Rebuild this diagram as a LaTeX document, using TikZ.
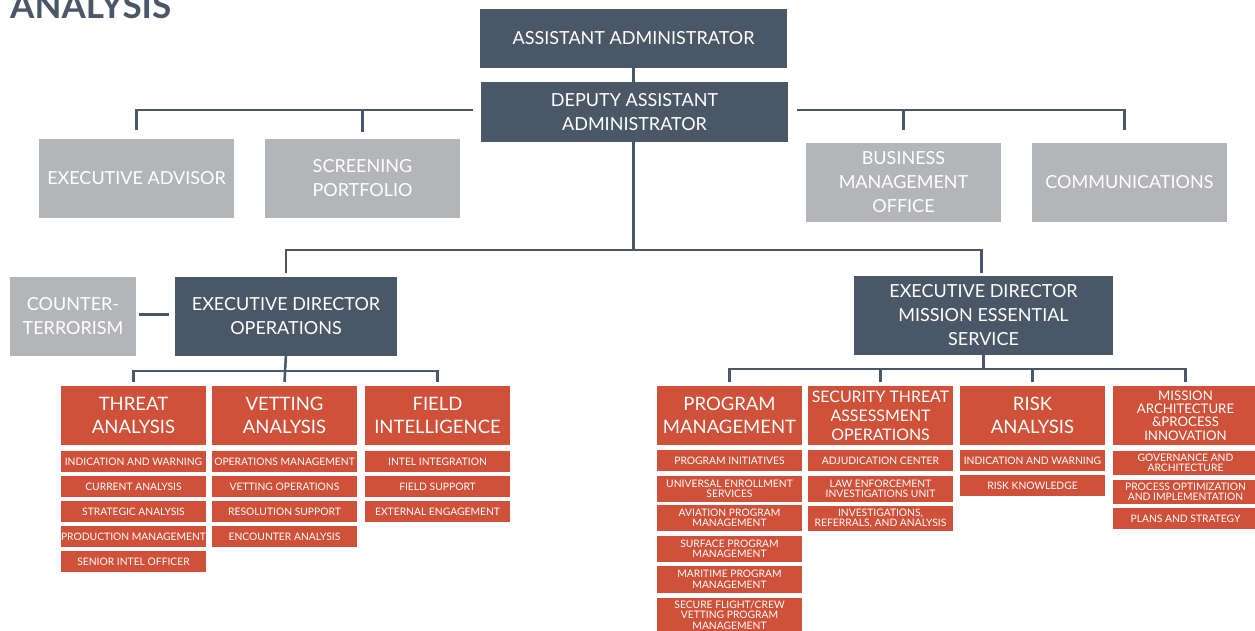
\documentclass[tikz,border=0pt]{standalone}
\usepackage{fontspec}
\setmainfont{Lato}
\usetikzlibrary{calc}
\definecolor{slate}{HTML}{4A5767}
\definecolor{ashgray}{HTML}{B4B5B9}
\definecolor{brick}{HTML}{D0513A}
\tikzset{
 lead/.style={fill=slate, text=white, inner sep=0, align=center, minimum height=79pt, font=\fontsize{18}{24}\selectfont},
 staff/.style={fill=ashgray, text=white, inner sep=0, align=center, minimum height=79pt, font=\fontsize{18}{24}\selectfont},
 office/.style={fill=brick, text=white, inner sep=0, align=center, minimum width=145pt, minimum height=59pt, font=\fontsize{18.5}{23.5}\selectfont},
 unit/.style={fill=brick, text=white, inner sep=0, align=center, minimum width=145pt, minimum height=21pt, font=\fontsize{10.3}{10.5}\selectfont},
 link/.style={slate, line width=2.5pt},
}

\begin{document}
\begin{tikzpicture}[x=1pt, y=-1pt]
\useasboundingbox (0,0) rectangle (1255,630);
\node[anchor=base west, text=slate, inner sep=0, font=\fontsize{35}{35}\selectfont\bfseries] (title) at (10,18) {ANALYSIS};

% front office
\node[lead, minimum width=307pt, minimum height=59pt] (aa) at (633.5,38.5) {ASSISTANT ADMINISTRATOR};
\node[lead, minimum width=307pt, minimum height=60pt] (daa) at (634.5,112) {DEPUTY ASSISTANT\\ADMINISTRATOR};
\node[staff, minimum width=195pt] (ea) at (136.5,178.5) {EXECUTIVE ADVISOR};
\node[staff, minimum width=195pt] (sp) at (362.5,178.5) {SCREENING\\PORTFOLIO};
\node[staff, minimum width=195pt] (bmo) at (903.5,182.5) {BUSINESS\\MANAGEMENT\\OFFICE};
\node[staff, minimum width=195pt] (com) at (1129.5,182.5) {COMMUNICATIONS};

\node[staff, minimum width=126pt] (ct) at (73,316.5) {COUNTER-\\TERRORISM};
\node[lead, minimum width=222pt] (edo) at (286,316.5) {EXECUTIVE DIRECTOR\\OPERATIONS};
\node[lead, minimum width=259pt] (edm) at (983.5,315.5) {EXECUTIVE DIRECTOR\\MISSION ESSENTIAL\\SERVICE};

% operations
\node[office] (ta) at (133.5,415.5) {THREAT\\ANALYSIS};
\node[office] (va) at (284.5,415.5) {VETTING\\ANALYSIS};
\node[office] (fi) at (437.5,415.5) {FIELD\\INTELLIGENCE};
\foreach \txt [count=\i] in {INDICATION AND WARNING,CURRENT ANALYSIS,STRATEGIC ANALYSIS,PRODUCTION MANAGEMENT,SENIOR INTEL OFFICER}
 \node[unit] (ta\i) at (133.5,{436.5+25*\i}) {\txt};
\foreach \txt [count=\i] in {OPERATIONS MANAGEMENT,VETTING OPERATIONS,RESOLUTION SUPPORT,ENCOUNTER ANALYSIS}
 \node[unit] (va\i) at (284.5,{436.5+25*\i}) {\txt};
\foreach \txt [count=\i] in {INTEL INTEGRATION,FIELD SUPPORT,EXTERNAL ENGAGEMENT}
 \node[unit] (fi\i) at (437.5,{436.5+25*\i}) {\txt};

% mission essential
\node[office] (pm) at (729.5,415.5) {PROGRAM\\MANAGEMENT};
\node[office, font=\fontsize{15.9}{19}\selectfont] (st) at (880.5,415.5) {SECURITY THREAT\\ASSESSMENT\\OPERATIONS};
\node[office] (ra) at (1032.5,415.5) {RISK\\ANALYSIS};
\node[office, font=\fontsize{13.2}{13.3}\selectfont] (ma) at (1185.5,415.5) {MISSION\\ARCHITECTURE\\\&PROCESS\\INNOVATION};

\node[unit] (pm1) at (729.5,460.5) {PROGRAM INITIATIVES};
\node[unit, minimum height=26pt] (pm2) at (729.5,489) {UNIVERSAL ENROLLMENT\\SERVICES};
\node[unit, minimum height=26pt] (pm3) at (729.5,518) {AVIATION PROGRAM\\MANAGEMENT};
\node[unit, minimum height=26pt] (pm4) at (729.5,549) {SURFACE PROGRAM\\MANAGEMENT};
\node[unit, minimum height=27pt] (pm5) at (729.5,579.5) {MARITIME PROGRAM\\MANAGEMENT};
\node[unit, minimum height=34pt] (pm6) at (729.5,615) {SECURE FLIGHT/CREW\\VETTING PROGRAM\\MANAGEMENT};

\node[unit] (st1) at (880.5,460.5) {ADJUDICATION CENTER};
\node[unit, minimum height=26pt] (st2) at (880.5,489) {LAW ENFORCEMENT\\INVESTIGATIONS UNIT};
\node[unit, minimum height=25pt] (st3) at (880.5,518.5) {INVESTIGATIONS,\\REFERRALS, AND ANALYSIS};

\node[unit] (ra1) at (1032.5,460.5) {INDICATION AND WARNING};
\node[unit] (ra2) at (1032.5,485.5) {RISK KNOWLEDGE};

\node[unit, minimum height=24pt] (ma1) at (1185.5,463) {GOVERNANCE AND\\ARCHITECTURE};
\node[unit, minimum height=24pt] (ma2) at (1185.5,492) {PROCESS OPTIMIZATION\\AND IMPLEMENTATION};
\node[unit] (ma3) at (1185.5,518.5) {PLANS AND STRATEGY};

% connectors
\draw[link] (aa.south) -- (aa.south |- daa.north);
\draw[link] ([xshift=-8pt,yshift=2pt]daa.west) -| ([yshift=9pt]ea.north);
\draw[link] (sp.north |- ea.north) ++(0,-29) -- ([yshift=7pt]sp.north);
\draw[link] ([xshift=9pt,yshift=2pt]daa.east) -| ([xshift=-5pt,yshift=13pt]com.north);
\draw[link] (bmo.north) ++(0,-33) -- ([yshift=13pt]bmo.north);

\coordinate (spine) at ([xshift=-1pt,yshift=-108pt]daa.south);
\draw[link] (spine |- daa.south) -- (spine);
\draw[link] ([yshift=4pt]edo.north) |- (spine) -| ([xshift=-2pt,yshift=3pt]edm.north);
\draw[link] ([xshift=3pt,yshift=2pt]ct.east) -- ([xshift=-6pt,yshift=2pt]edo.west);

\coordinate (opsbus) at ([yshift=-15pt]edo.south);
\draw[link] ([yshift=3pt]edo.south) -- ([yshift=4pt]va.north);
\draw[link] ([yshift=4pt]ta.north) |- (opsbus) -| ([yshift=4pt]fi.north);

\coordinate (mesbus) at ([yshift=-14pt]edm.south);
\draw[link] (edm.south) -- (mesbus);
\draw[link] ([yshift=4pt]pm.north) |- (mesbus) -| ([yshift=4pt]ma.north);
\draw[link] ([yshift=4pt]st.north) |- (mesbus);
\draw[link] ([yshift=4pt]ra.north) |- (mesbus);
\end{tikzpicture}
\end{document}
